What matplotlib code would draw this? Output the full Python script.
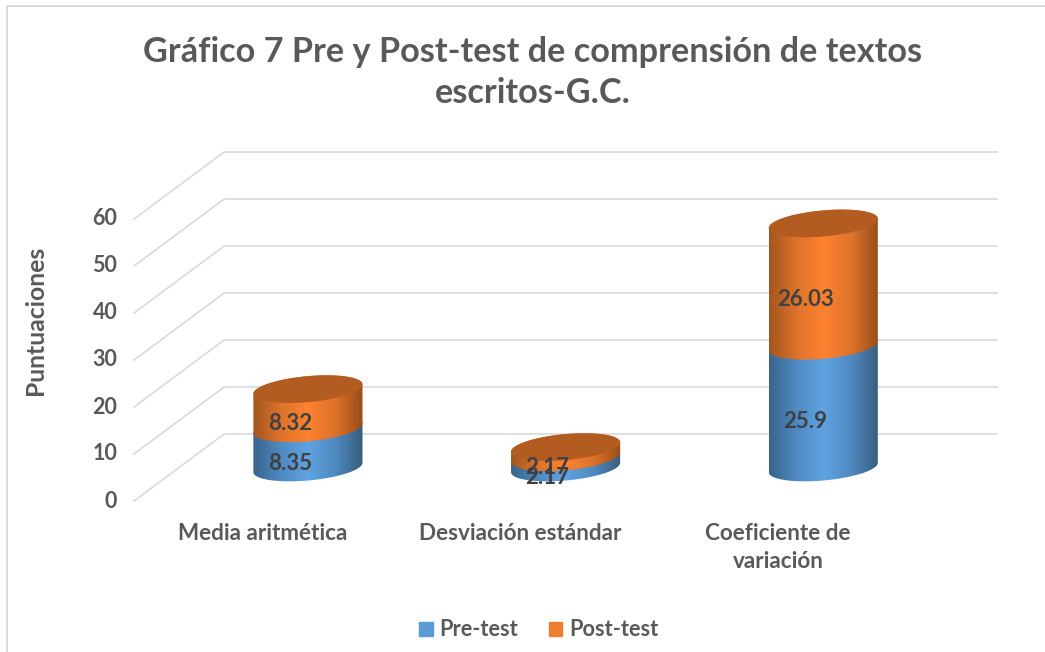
import numpy as np
import matplotlib
matplotlib.use('Agg')
import matplotlib.pyplot as plt
from matplotlib.colors import LinearSegmentedColormap
from matplotlib.patches import Patch, PathPatch, Rectangle
from matplotlib.path import Path
from matplotlib.transforms import ScaledTranslation

plt.rcParams['font.family'] = ['Lato', 'DejaVu Sans']
plt.rcParams['font.weight'] = 'bold'

categories = ['Media aritmética', 'Desviación estándar', 'Coeficiente de\nvariación']
pre_test = [8.35, 2.17, 25.9]
post_test = [8.32, 2.17, 26.03]
pre_labels = ['8.35', '2.17', '25.9']
post_labels = ['8.32', '2.17', '26.03']
y_ticks = [0, 10, 20, 30, 40, 50, 60]

# fake 3d: depth of the floor in data units
depth_x = 0.35
depth_y = 14.26
half_width = 0.2117
ell_b = 2.77
ell_k = 1.0

grey = '#595959'
grid = '#d9d9d9'
blue_stops = ['#38648c', '#4f8ac2', '#5fa3e2', '#4f8ac0', '#375d7e']
orange_stops = ['#a2561f', '#dd732b', '#fe8230', '#dd732b', '#974d19']
cap_color = '#b35c21'


def ellipse(cx, cy, t):
    return cx + half_width * np.cos(t), cy + ell_b * np.sin(t) + ell_k * np.cos(t)


def draw_body(ax, cx, y0, y1, stops):
    # lower arc of the bottom ellipse, then upper arc of the top one
    x1, y1s = ellipse(cx, y0, np.linspace(np.pi, 2 * np.pi, 60))
    x2, y2s = ellipse(cx, y1, np.linspace(0, np.pi, 60))
    verts = np.column_stack([np.r_[x1, x2], np.r_[y1s, y2s]])
    clip = PathPatch(Path(np.vstack([verts, verts[0]])), fc='none', ec='none', zorder=3)
    ax.add_patch(clip)
    cmap = LinearSegmentedColormap.from_list('cyl', stops)
    grad = np.linspace(0, 1, 256).reshape(1, -1)
    im = ax.imshow(grad, cmap=cmap, aspect='auto', zorder=3, interpolation='bilinear',
                   extent=(cx - half_width, cx + half_width, y0 - 5, y1 + 5))
    im.set_clip_path(clip)
    im.set_clip_box(fig.bbox)


fig = plt.figure(figsize=(10.45, 6.52), dpi=100)
fig.patches.append(Rectangle((7 / 1045, -0.02), 1.1, 1.02 - 5.5 / 652, transform=fig.transFigure,
                             fc='none', ec=grid, lw=1.3, zorder=-1))
ax = fig.add_axes([134 / 1045, (652 - 501) / 652, 773 / 1045, 282 / 652])
ax.patch.set_visible(False)
for s in ax.spines.values():
    s.set_visible(False)

x = np.arange(len(categories))
for v in y_ticks:
    ax.plot([-0.5, -0.5 + depth_x, 2.5 + depth_x], [v, v + depth_y, v + depth_y],
            color=grid, lw=1.2, clip_on=False, zorder=1)

for i in x:
    cx = i + depth_x / 2
    base = depth_y / 2
    seam = base + pre_test[i]
    top = seam + post_test[i]
    draw_body(ax, cx, base, seam, blue_stops)
    draw_body(ax, cx, seam, top, orange_stops)
    xc, yc = ellipse(cx, top, np.linspace(0, 2 * np.pi, 120))
    ax.fill(xc, yc, color=cap_color, zorder=4, clip_on=False, lw=0)
    ax.annotate(pre_labels[i], (cx, base + pre_test[i] / 2), xytext=(-13, -11), textcoords='offset points',
                ha='center', va='center', fontsize=16, color='#404040', zorder=5, annotation_clip=False)
    ax.annotate(post_labels[i], (cx, seam + post_test[i] / 2), xytext=(-13, -11), textcoords='offset points',
                ha='center', va='center', fontsize=16, color='#404040', zorder=5, annotation_clip=False)

ax.set_xlim(-0.5, 2.5)
ax.set_ylim(0, 60)
ax.set_xticks(x)
ax.set_xticklabels(categories, fontsize=16.2, color=grey, linespacing=1.45)
ax.set_yticks(y_ticks)
ax.set_yticklabels([str(v) for v in y_ticks], fontsize=15.5, color=grey)
ax.tick_params(axis='x', length=0, pad=15.5)
ax.tick_params(axis='y', length=0, pad=12)
# tick labels sit a little above the front floor lines
shift = ScaledTranslation(0, 2 / 100, fig.dpi_scale_trans)
for lab in ax.get_yticklabels():
    lab.set_transform(lab.get_transform() + shift)
ax.set_ylabel('Puntuaciones', fontsize=17.8, color=grey, fontweight='bold')
ax.yaxis.set_label_coords(-0.1125, 0.642)

fig.text(532.5 / 1045, 1 - 72.5 / 652, 'Gráfico 7 Pre y Post-test de comprensión de textos\nescritos-G.C.',
         ha='center', va='center', fontsize=24.65, color=grey, linespacing=1.33)

handles = [Patch(color='#5b9bd5', label='Pre-test'), Patch(color='#ed7d31', label='Post-test')]
fig.legend(handles=handles, loc='center', bbox_to_anchor=(539 / 1045, 1 - 630 / 652), ncol=2, frameon=False,
           fontsize=15.7, labelcolor=grey, handlelength=0.6, handleheight=0.6, handletextpad=0.33, columnspacing=1.4)

fig.savefig('out.png', dpi=100)
